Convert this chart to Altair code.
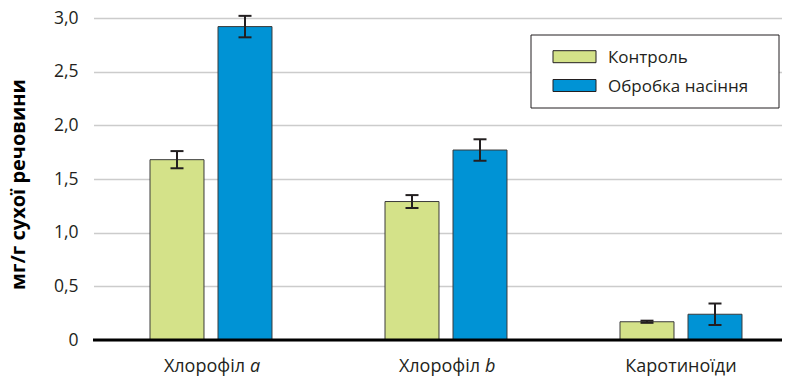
import altair as alt
import pandas as pd

categories = ["Хлорофіл a", "Хлорофіл b", "Каротиноїди"]
label_main = ["Хлорофіл", "Хлорофіл", "Каротиноїди"]
label_italic = ["a", "b", ""]
series = ["Контроль", "Обробка насіння"]
control = [1.68, 1.29, 0.17]
control_err = [0.08, 0.06, 0.01]
treated = [2.92, 1.77, 0.24]
treated_err = [0.10, 0.10, 0.10]
colors = ["#d4e289", "#0093d5"]
y_ticks = [0, 0.5, 1.0, 1.5, 2.0, 2.5, 3.0]
y_title = "мг/г сухої речовини"

rows = []
for i, c in enumerate(categories):
    for s, vals, errs in ((series[0], control, control_err), (series[1], treated, treated_err)):
        rows.append({"cat": c, "series": s, "value": vals[i],
                     "lo": vals[i] - errs[i], "hi": vals[i] + errs[i]})
df = pd.DataFrame(rows)
labels_df = pd.DataFrame({"cat": categories, "main": label_main, "ital": label_italic})
legend_df = pd.DataFrame({"series": series, "idx": list(range(len(series)))})

FONT = "Open Sans"
INK = "#231f20"
W, H = 689, 322

x_enc = alt.X("cat:N", sort=categories, axis=None,
              scale=alt.Scale(domain=categories, range=[0.5, 705.5], paddingInner=0, paddingOuter=0))
xo_enc = alt.XOffset("series:N", sort=series,
                     scale=alt.Scale(domain=series, paddingInner=0.206, paddingOuter=0.831))
y_scale = alt.Scale(domain=[0, 3], nice=False, zero=True)
y_axis = alt.Axis(values=y_ticks, title=y_title,
                  labelExpr="datum.value == 0 ? '0' : replace(format(datum.value, '.1f'), '.', ',')")


def Y(field):
    return alt.Y(field, scale=y_scale, axis=y_axis)


base = alt.Chart(df)

bars = base.mark_bar(stroke="#3a3a3a", strokeWidth=1).encode(
    x=x_enc, xOffset=xo_enc, y=Y("value:Q"),
    color=alt.Color("series:N", scale=alt.Scale(domain=series, range=colors), legend=None),
)
err_rule = base.mark_rule(color=INK, strokeWidth=2).encode(
    x=x_enc, xOffset=xo_enc, y=Y("lo:Q"), y2="hi:Q")
cap_lo = base.mark_tick(orient="horizontal", size=13, thickness=2, color=INK, opacity=1).encode(
    x=x_enc, xOffset=xo_enc, y=Y("lo:Q"))
cap_hi = base.mark_tick(orient="horizontal", size=13, thickness=2, color=INK, opacity=1).encode(
    x=x_enc, xOffset=xo_enc, y=Y("hi:Q"))

zero = alt.Chart(pd.DataFrame({"v": [0]})).mark_rule(color="black", strokeWidth=3).encode(y=Y("v:Q"))

LAB_Y = 354
lab = alt.Chart(labels_df)
lab_main = lab.transform_filter("datum.ital != ''").mark_text(
    align="right", baseline="alphabetic", dx=34, font=FONT, fontSize=18, color=INK
).encode(x=x_enc, y=alt.value(LAB_Y), text="main:N")
lab_ital = lab.transform_filter("datum.ital != ''").mark_text(
    align="left", baseline="alphabetic", dx=39, font=FONT, fontSize=18, fontStyle="italic", color=INK
).encode(x=x_enc, y=alt.value(LAB_Y), text="ital:N")
lab_plain = lab.transform_filter("datum.ital == ''").mark_text(
    align="center", baseline="alphabetic", font=FONT, fontSize=18, color=INK
).encode(x=x_enc, y=alt.value(LAB_Y), text="main:N")

leg_box = alt.Chart(pd.DataFrame({"a": [0]})).mark_rect(
    fill="white", stroke=INK, strokeWidth=1
).encode(x=alt.value(438), x2=alt.value(686), y=alt.value(17), y2=alt.value(90))

leg_layers = []
for i, s in enumerate(series):
    d = legend_df[legend_df["idx"] == i]
    yc = 38.7 + i * 28.8
    leg_layers.append(alt.Chart(d).mark_rect(fill=colors[i], stroke=INK, strokeWidth=1).encode(
        x=alt.value(460), x2=alt.value(503), y=alt.value(yc - 6), y2=alt.value(yc + 6)))
    leg_layers.append(alt.Chart(d).mark_text(
        align="left", baseline="alphabetic", font=FONT, fontSize=17, color=INK
    ).encode(x=alt.value(515), y=alt.value(yc + 6.5), text="series:N"))

chart = alt.layer(
    bars, err_rule, cap_lo, cap_hi, zero, lab_main, lab_ital, lab_plain, leg_box, *leg_layers
).properties(
    width=W, height=H,
    padding={"left": 85, "top": 10, "right": 0, "bottom": 37},
    autosize=alt.AutoSizeParams(type="none"),
).configure_view(stroke=None).configure_axisY(
    domain=False, ticks=False, labelPadding=15, labelFont=FONT, labelFontSize=17.5,
    labelColor=INK, grid=True, gridColor="#cccccc", gridWidth=1.5,
    titleFont=FONT, titleFontSize=20, titleFontWeight="bold", titleColor="black",
    titleX=-65, titleY=166, titleBaseline="bottom", titleAlign="center", titleAngle=-90,
)

chart.save("out.html", embed_options={"renderer": "svg", "actions": False})
